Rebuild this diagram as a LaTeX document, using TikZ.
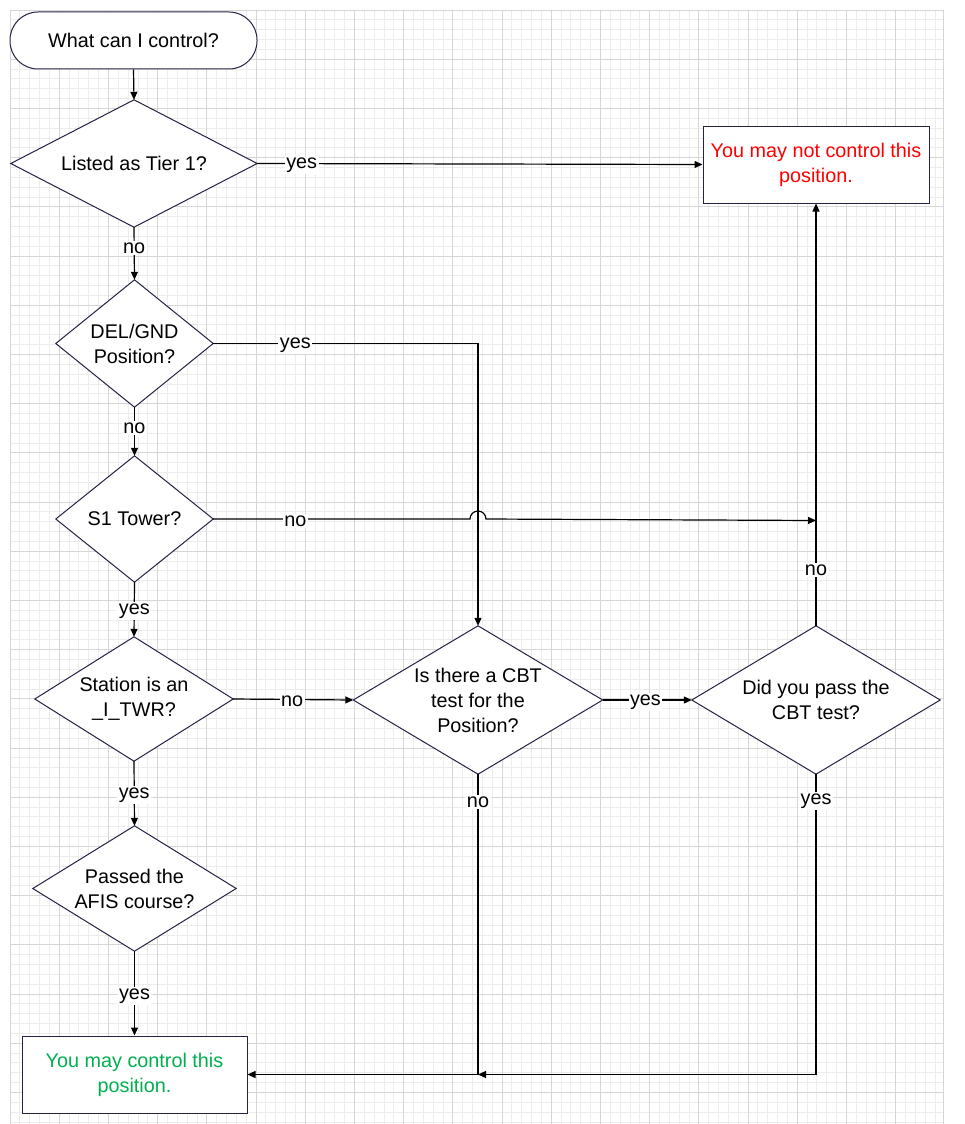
\documentclass[tikz,border=0pt]{standalone}
\usepackage{fontspec}
\setmainfont{Liberation Sans}
\usetikzlibrary{arrows.meta,calc}
\pgfdeclarelayer{gridlayer}
\pgfdeclarelayer{shapelayer}
\pgfsetlayers{gridlayer,shapelayer,main}
\definecolor{navy}{RGB}{35,35,70}
\definecolor{minorgrid}{RGB}{236,236,236}
\definecolor{majorgrid}{RGB}{214,214,214}
\definecolor{redtxt}{RGB}{255,0,0}
\definecolor{greentxt}{RGB}{0,176,80}
\begin{document}
\begin{tikzpicture}[x=1pt,y=-1pt,
  every node/.style={font=\fontsize{19.8}{25}\selectfont},
  box/.style={draw=navy, line width=1pt, fill=white, inner sep=0pt, align=center},
  q/.style={inner sep=0pt, align=center},
  conn/.style={draw=black, line width=1.2pt, -{Triangle[length=8pt,width=7pt]}},
  lbl/.style={fill=white, inner sep=1.5pt, yshift=-2pt}]
\useasboundingbox (0,0) rectangle (964,1124);
% grid
\begin{pgfonlayer}{gridlayer}
  \fill[white] (0,0) rectangle (964,1124);
  \foreach \i in {0,...,94} {
    \pgfmathsetmacro\xx{10+9.84*\i}
    \draw[minorgrid, line width=0.8pt] (\xx,10) -- (\xx,1124);
  }
  \foreach \i in {0,...,113} {
    \pgfmathsetmacro\yy{10+9.84*\i}
    \draw[minorgrid, line width=0.8pt] (10,\yy) -- (943,\yy);
  }
  \foreach \i in {0,5,...,90} {
    \pgfmathsetmacro\xx{10+9.84*\i}
    \draw[majorgrid, line width=0.9pt] (\xx,10) -- (\xx,1124);
  }
  \foreach \i in {0,5,...,110} {
    \pgfmathsetmacro\yy{10+9.84*\i}
    \draw[majorgrid, line width=0.9pt] (10,\yy) -- (943,\yy);
  }
  \draw[majorgrid, line width=0.9pt] (10,1124) -- (10,10) -- (943,10) -- (943,1124);
\end{pgfonlayer}

% nodes
\node[box, rounded corners=28pt, minimum width=247, minimum height=57] (start) at (133.5,40.5) {What can I control?};
\node[q, minimum width=246, minimum height=127] (d1) at (134,163.5) {Listed as Tier 1?};
\node[q, minimum width=157, minimum height=127] (d2) at (134.5,343.5) {DEL/GND\\Position?};
\node[q, minimum width=157, minimum height=126] (d3) at (134.5,519) {S1 Tower?};
\node[q, minimum width=198, minimum height=124] (d4) at (134,699) {Station is an\\\_I\_TWR?};
\node[q, minimum width=249, minimum height=148] (d5) at (478,700) {Is there a CBT\\test for the\\Position?};
\node[q, minimum width=248, minimum height=148] (d6) at (816,700) {Did you pass the\\CBT test?};
\node[q, minimum width=203, minimum height=125] (d7) at (134.5,888.5) {Passed the\\AFIS course?};
\node[box, text=redtxt, minimum width=226, minimum height=77] (red) at (816,164.5) {You may not control this\\position.};
\node[box, text=greentxt, minimum width=225, minimum height=77] (green) at (134.5,1074.5) {You may control this\\position.};

\begin{pgfonlayer}{shapelayer}
  \foreach \n in {d1,d2,d3,d4,d5,d6,d7}
    \filldraw[fill=white, draw=navy, line width=1pt] (\n.north) -- (\n.east) -- (\n.south) -- (\n.west) -- cycle;
\end{pgfonlayer}

% helper coordinates
\coordinate (jA) at ($(d3.east -| d5.north)+(-8,0)$);
\coordinate (nojoin) at ($(d3.east -| d6.north)+(0,1.5)$);
\coordinate (m) at (d5.south |- green.east);

% connectors
\draw[conn] (start.south) -- (d1.north);
\draw[conn] (d1.east) -- node[lbl,pos=0.10]{yes} (red.west);
\draw[conn] (d1.south) -- node[lbl,pos=0.36]{no} (d2.north);
\draw[conn] (d2.east) -- node[lbl,pos=0.31]{yes} (d2.east -| d5.north) -- (d5.north);
\draw[conn] (d2.south) -- node[lbl,pos=0.39]{no} (d3.north);
\draw[conn] (d3.east) -- node[lbl,pos=0.32]{no} (jA) arc[start angle=180,end angle=0,radius=8pt] -- (nojoin);
\draw[conn] (d3.south) -- node[lbl,pos=0.49]{yes} (d4.north);
\draw[conn] (d4.east) -- node[lbl,pos=0.49]{no} (d5.west);
\draw[conn] (d4.south) -- node[lbl,pos=0.49]{yes} (d7.north);
\draw[conn] (d7.south) -- node[lbl,pos=0.51]{yes} (green.north);
\draw[conn] (d5.east) -- node[lbl,pos=0.48]{yes} (d6.west);
\draw[conn] (d6.north) -- node[lbl,pos=0.137]{no} (red.south);
\draw[conn] (d6.south) -- node[lbl,pos=0.083]{yes} (d6.south |- m) -- (m);
\draw[conn] (d5.south) -- node[lbl,pos=0.087]{no} (m) -- (green.east);
\end{tikzpicture}
\end{document}
